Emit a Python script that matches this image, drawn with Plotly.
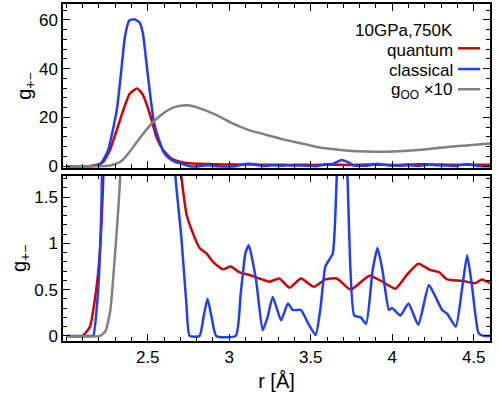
import plotly.graph_objects as go
from plotly.subplots import make_subplots

# quantum g+- (red)
quantum_r = [2.00, 2.10, 2.145, 2.186, 2.206, 2.227, 2.268, 2.31, 2.35, 2.39, 2.435, 2.47,
             2.512, 2.553, 2.594, 2.645, 2.68, 2.706, 2.737, 2.777, 2.818, 2.86,
             2.90, 2.96, 3.01, 3.06, 3.12, 3.185, 3.246, 3.307, 3.37, 3.44, 3.52, 3.59, 3.66,
             3.745, 3.86, 3.94, 4.02, 4.09, 4.16, 4.235, 4.286, 4.337, 4.43, 4.51, 4.55, 4.60]
quantum_g = [0.0, 0.0, 0.1, 0.53, 0.9, 1.72, 6.6, 14.8, 23.0, 29.8, 31.9, 29.2,
             21.6, 12.0, 6.6, 3.1, 2.1, 1.72, 1.32, 1.11, 0.95, 0.89,
             0.80, 0.72, 0.75, 0.69, 0.66, 0.62, 0.585, 0.62, 0.52, 0.62, 0.53, 0.61, 0.62,
             0.50, 0.65, 0.585, 0.51, 0.66, 0.78, 0.71, 0.69, 0.61, 0.595, 0.57, 0.61, 0.57]

# classical g+- (blue)
classical_r = [2.00, 2.15, 2.165, 2.196, 2.217, 2.257, 2.31, 2.34, 2.36, 2.386, 2.42, 2.45,
               2.47, 2.49, 2.517, 2.54, 2.573, 2.60, 2.635, 2.67, 2.706, 2.737, 2.757, 2.818,
               2.842, 2.867, 2.892, 2.92, 3.04, 3.07, 3.10, 3.12, 3.165, 3.205, 3.235, 3.267,
               3.318, 3.36, 3.39, 3.44, 3.48, 3.53, 3.56, 3.59, 3.635, 3.66, 3.69, 3.725,
               3.767, 3.807, 3.84, 3.88, 3.91, 3.94, 3.98, 4.00, 4.05, 4.10, 4.16, 4.225,
               4.266, 4.306, 4.337, 4.39, 4.43, 4.46, 4.49, 4.53, 4.56, 4.60]
classical_g = [0.0, 0.0, 0.0, 0.5, 1.5, 6.6, 23.0, 40.8, 53.0, 59.7, 60.2, 58.9,
               54.5, 43.5, 28.0, 17.5, 10.0, 5.5, 3.0, 1.72, 1.07, 0.35, 0.0, 0.0,
               0.2, 0.40, 0.2, 0.0, 0.0, 0.45, 0.90, 0.98, 0.60, 0.06, 0.2, 0.42,
               0.17, 0.35, 0.28, 0.28, 0.15, 0.01, 0.3, 0.75, 0.89, 1.72, 2.5, 1.72,
               0.22, 0.20, 0.13, 0.71, 0.95, 0.71, 0.28, 0.30, 0.22, 0.35, 0.12, 0.55,
               0.42, 0.28, 0.24, 0.10, 0.53, 0.87, 0.53, 0.03, 0.0, 0.0]

# g_OO x 10 (gray)
goo_r = [2.00, 2.206, 2.24, 2.27, 2.30, 2.33, 2.36, 2.39, 2.44, 2.49, 2.53, 2.573, 2.614,
         2.655, 2.70, 2.737, 2.78, 2.82, 2.92, 3.02, 3.12, 3.236, 3.33, 3.43, 3.53, 3.63,
         3.735, 3.84, 3.94, 4.04, 4.14, 4.25, 4.35, 4.47, 4.60]
goo_g = [0.0, 0.0, 0.05, 0.27, 0.9, 1.69, 3.5, 6.0, 10.5, 14.8, 18.0, 20.5, 22.5,
         24.0, 24.8, 25.0, 24.6, 23.7, 21.0, 17.5, 14.8, 12.7, 11.0, 9.5, 8.0, 7.0,
         6.3, 6.0, 5.9, 6.1, 6.5, 7.2, 8.0, 8.6, 9.3]

x_ticks = [2.5, 3, 3.5, 4, 4.5]

series = [
    ("quantum", quantum_r, quantum_g, "#d40000"),
    ("classical", classical_r, classical_g, "#1f3ff0"),
    ("g<sub>OO</sub> \u00d710", goo_r, goo_g, "#808080"),
]

fig = make_subplots(rows=2, cols=1, shared_xaxes=True, vertical_spacing=0.02)

for name, r, g, c in series:
    for row in (1, 2):
        fig.add_trace(go.Scatter(x=r, y=g, mode="lines", name=name, showlegend=False,
                                 line=dict(color=c, width=2.5, shape="spline", smoothing=0.5),
                                 cliponaxis=True), row=row, col=1)

font = dict(family="Liberation Sans, Arial, sans-serif", size=17, color="black")
axis_common = dict(showline=True, linecolor="black", linewidth=1.5, mirror="ticks",
                   ticks="inside", ticklen=7, tickwidth=1, tickcolor="black",
                   showgrid=False, zeroline=False, automargin=False)

fig.update_xaxes(range=[1.98, 4.6], tickvals=x_ticks, ticktext=[str(t) for t in x_ticks],
                 minor=dict(dtick=0.1, tick0=2.0, ticks="inside", ticklen=4, tickcolor="black"),
                 **axis_common)
fig.update_xaxes(showticklabels=False, row=1, col=1)
fig.update_xaxes(title=dict(text="r [\u00c5]", standoff=8), row=2, col=1)

fig.update_yaxes(range=[-0.8, 66.5], dtick=20,
                 minor=dict(dtick=4, ticks="inside", ticklen=4, tickcolor="black"),
                 title=dict(text="g<sub>+\u2212</sub>", standoff=2),
                 **axis_common, row=1, col=1)
fig.update_yaxes(range=[-0.055, 1.73], tickvals=[0, 0.5, 1, 1.5], ticktext=["0", "0.5", "1", "1.5"],
                 minor=dict(dtick=0.1, ticks="inside", ticklen=4, tickcolor="black"),
                 title=dict(text="g<sub>+\u2212</sub>", standoff=2),
                 **axis_common, row=2, col=1)

fig.update_layout(
    width=498, height=394,
    margin=dict(l=63, r=8, t=4, b=53),
    plot_bgcolor="white", paper_bgcolor="white",
    font=font,
    yaxis=dict(domain=[0.513, 1.0]),
    yaxis2=dict(domain=[0.0, 0.4905]),
)

# legend drawn as text + line samples (text on the left of the line)
fig.add_annotation(text="10GPa,750K", xref="paper", yref="paper", x=0.918, y=0.92,
                   xanchor="right", yanchor="middle", showarrow=False, font=font)
text_y = [0.8635, 0.8027, 0.742]
line_y = [0.8685, 0.807, 0.747]
for (name, r, g, c), ty, ly in zip(series, text_y, line_y):
    fig.add_annotation(text=name, xref="paper", yref="paper", x=0.918, y=ty,
                       xanchor="right", yanchor="middle", showarrow=False, font=font)
    fig.add_shape(type="line", xref="paper", yref="paper", x0=0.925, x1=0.977, y0=ly,
                  y1=ly, line=dict(color=c, width=2.5))

fig.write_html("out.html", config={"displayModeBar": False},
               post_script="document.body.style.margin='0';document.body.style.overflow='hidden';")
